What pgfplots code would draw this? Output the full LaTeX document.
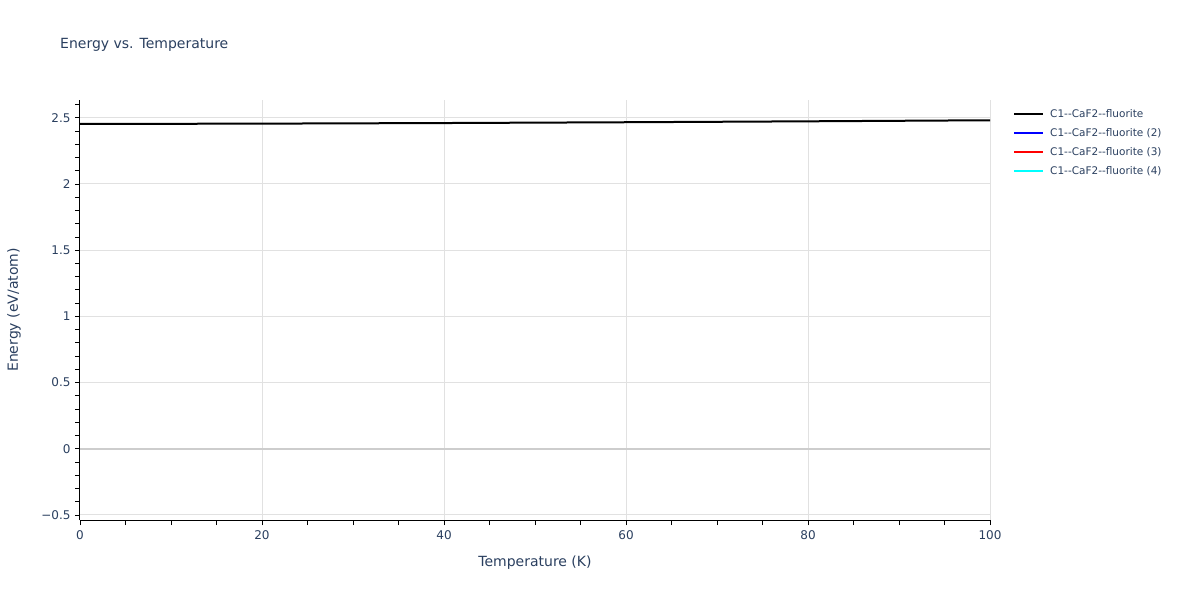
\documentclass[border=0pt]{standalone}
\usepackage{fontspec}
\setmainfont{DejaVu Sans}
\usepackage{pgfplots}
\pgfplotsset{compat=1.18}
\definecolor{plotlytext}{RGB}{42,63,95}
\definecolor{gridgray}{RGB}{225,225,225}
\definecolor{zerogray}{RGB}{205,205,205}
\definecolor{brightcyan}{RGB}{0,255,255}
\definecolor{pureblue}{RGB}{0,0,255}
\definecolor{purered}{RGB}{255,0,0}

\begin{document}
\begin{tikzpicture}[x=1pt,y=1pt]
\useasboundingbox (0,0) rectangle (1200,600);
\begin{axis}[
    at={(80pt,80pt)}, anchor=south west,
    scale only axis,
    width=910pt, height=420pt,
    xmin=0, xmax=100,
    ymin=-0.538, ymax=2.634,
    axis lines*=left,
    axis line style={-, black, line width=1pt},
    xtick={0,20,...,100},
    minor xtick={0,5,...,100},
    ytick={-0.5,0,0.5,1,1.5,2,2.5},
    yticklabels={−0.5,0,0.5,1,1.5,2,2.5},
    minor ytick={-0.5,-0.4,-0.3,-0.2,-0.1,0,0.1,0.2,0.3,0.4,0.5,0.6,0.7,0.8,0.9,1,1.1,1.2,1.3,1.4,1.5,1.6,1.7,1.8,1.9,2,2.1,2.2,2.3,2.4,2.5,2.6},
    tick align=outside,
    major tick length=5pt, minor tick length=5pt,
    every tick/.style={black, line width=0.8pt},
    xmajorgrids, ymajorgrids,
    major grid style={gridgray, line width=1pt},
    /pgf/number format/assume math mode=true,
    ticklabel style={font=\fontsize{12}{14}\selectfont, text=plotlytext},
    xticklabel style={yshift=-2pt},
    yticklabel style={xshift=-1pt},
    xlabel={Temperature (K)},
    ylabel={Energy (eV/atom)},
    label style={font=\fontsize{14}{16}\selectfont, text=plotlytext},
    xlabel style={at={(axis description cs:0.5,-0.1024)}, anchor=center},
    ylabel style={at={(axis description cs:-0.0725,0.5)}, anchor=center},
    legend style={at={(axis description cs:1.022,0.99)}, anchor=north west,
        draw=none, fill=none, font=\fontsize{10.5}{13}\selectfont, text=plotlytext,
        row sep=3pt, nodes={inner sep=2pt, text height=9pt, text depth=3pt}},
    legend cell align=left,
    legend image code/.code={\draw[#1, line width=2pt] (0pt,0pt) -- (29pt,0pt); \path[draw=none, fill=none] (0pt,0pt) rectangle (34pt,0.1pt);},
    clip=true,
]
\addplot[zerogray, line width=2pt, forget plot] coordinates {(0,0) (100,0)};
\addplot[black, line width=2pt] coordinates {(0,2.453) (20,2.4555) (40,2.460) (60,2.466) (80,2.473) (100,2.481)};
\addlegendentry{C1-{}-CaF2-{}-fluorite}
\addlegendimage{pureblue}
\addlegendentry{C1-{}-CaF2-{}-fluorite (2)}
\addlegendimage{purered}
\addlegendentry{C1-{}-CaF2-{}-fluorite (3)}
\addlegendimage{brightcyan}
\addlegendentry{C1-{}-CaF2-{}-fluorite (4)}
\end{axis}
\node[anchor=west, font=\fontsize{14}{17}\selectfont, text=plotlytext, inner sep=0pt] at (60,555) {Energy vs. Temperature};
\end{tikzpicture}
\end{document}
